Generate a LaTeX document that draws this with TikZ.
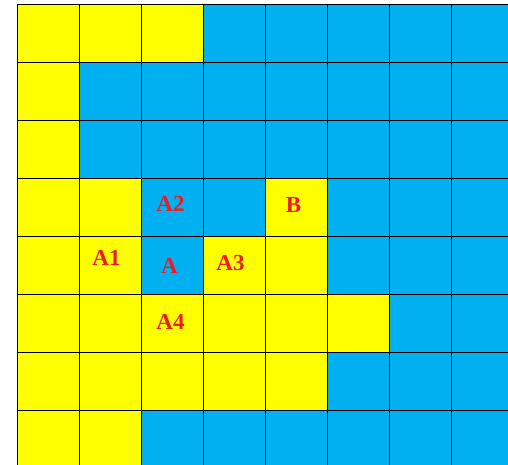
\documentclass[tikz,border=0pt]{standalone}
\usepackage{fontspec}
\setmainfont{Liberation Serif}
\usetikzlibrary{positioning}
\definecolor{cellyellow}{RGB}{255, 255, 0}
\definecolor{cellblue}{RGB}{0, 176, 240}
\definecolor{labelred}{RGB}{237, 28, 36}
\newlength{\cellw}
\setlength{\cellw}{62pt}
\newlength{\cellh}
\setlength{\cellh}{58pt}

\begin{document}
\begin{tikzpicture}[x=1pt, y=1pt,
	cell/.style={rectangle, draw=black, line width=0.9pt, minimum width=\cellw, minimum height=\cellh, inner sep=0pt, anchor=north west},
	ycell/.style={cell, fill=cellyellow},
	bcell/.style={cell, fill=cellblue},
	tag/.style={text=labelred, font=\fontsize{23}{23}\selectfont\bfseries}]

\useasboundingbox (0,0) rectangle (508,-465);
\clip (0,0) rectangle (508,-465);

% the 8x8 board, row by row from the top
\foreach \row [count=\r from 0] in {
	{ycell,ycell,ycell,bcell,bcell,bcell,bcell,bcell},
	{ycell,bcell,bcell,bcell,bcell,bcell,bcell,bcell},
	{ycell,bcell,bcell,bcell,bcell,bcell,bcell,bcell},
	{ycell,ycell,bcell,bcell,ycell,bcell,bcell,bcell},
	{ycell,ycell,bcell,ycell,ycell,bcell,bcell,bcell},
	{ycell,ycell,ycell,ycell,ycell,ycell,bcell,bcell},
	{ycell,ycell,ycell,ycell,ycell,bcell,bcell,bcell},
	{ycell,ycell,bcell,bcell,bcell,bcell,bcell,bcell}}{
	\foreach \kind [count=\c from 0] in \row {
		\node[\kind](c\r\c) at (17+62*\c, -4-58*\r){};
	}
}

% labels
\node[tag](a)[] at ([shift={(-3,0)}]c42.center){A};
\node[tag](a1)[] at ([shift={(-4,8)}]c41.center){A1};
\node[tag](a2)[] at ([shift={(-2,4)}]c32.center){A2};
\node[tag](a3)[] at ([shift={(-4,2)}]c43.center){A3};
\node[tag](a4)[] at ([shift={(-2,2)}]c52.center){A4};
\node[tag](b)[] at ([shift={(-3,2)}]c34.center){B};

\end{tikzpicture}
\end{document}
